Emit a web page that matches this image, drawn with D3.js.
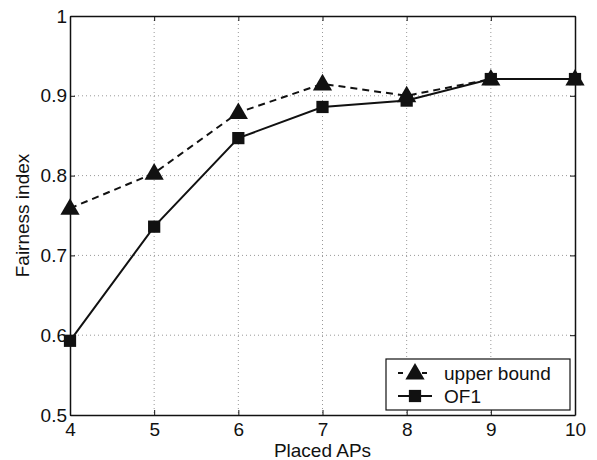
<!DOCTYPE html>
<html>
<head>
<meta charset="utf-8">
<script src="https://cdn.jsdelivr.net/npm/d3@7"></script>
<style>
  body { margin: 0; background: #fff; }
  svg { font-family: "Liberation Sans", Arial, sans-serif; }
</style>
</head>
<body>
<svg id="chart" width="597" height="460"></svg>
<script>
// data
const aps = [4, 5, 6, 7, 8, 9, 10];
const upperBound = [0.759, 0.803, 0.879, 0.915, 0.900, 0.921, 0.921];
const of1 = [0.593, 0.736, 0.847, 0.886, 0.894, 0.921, 0.921];
const yTicks = [0.5, 0.6, 0.7, 0.8, 0.9, 1];
const seriesNames = ["upper bound", "OF1"];

const fontSize = 19;

const svg = d3.select("#chart");
const margin = { left: 70, top: 16, right: 22, bottom: 45 };
const width = 597 - margin.left - margin.right;
const height = 460 - margin.top - margin.bottom;

const x = d3.scaleLinear().domain([4, 10]).range([0, width]);
const y = d3.scaleLinear().domain([0.5, 1]).range([height, 0]);

const g = svg.append("g").attr("transform", `translate(${margin.left},${margin.top})`);

// dotted grid
g.selectAll(".vgrid")
  .data(aps.slice(1, -1))
  .enter().append("line")
  .attr("x1", d => x(d)).attr("x2", d => x(d))
  .attr("y1", 0).attr("y2", height)
  .attr("stroke", "#999").attr("stroke-width", 1)
  .attr("stroke-dasharray", "1,3");

g.selectAll(".hgrid")
  .data(yTicks.slice(1, -1))
  .enter().append("line")
  .attr("x1", 0).attr("x2", width)
  .attr("y1", d => y(d)).attr("y2", d => y(d))
  .attr("stroke", "#999").attr("stroke-width", 1)
  .attr("stroke-dasharray", "1,3");

// axes (ticks inside, like matlab)
const xAxis = g.append("g").attr("transform", `translate(0,${height})`)
  .call(d3.axisBottom(x).tickValues(aps).tickSizeInner(-5).tickSizeOuter(0).tickPadding(8).tickFormat(d3.format("d")));
const yAxis = g.append("g")
  .call(d3.axisLeft(y).tickValues(yTicks).tickSizeInner(-5).tickSizeOuter(0).tickPadding(3).tickFormat(d => d === 1 ? "1" : d.toFixed(1)));

const xTop = g.append("g")
  .call(d3.axisTop(x).tickValues(aps).tickSizeInner(-5).tickSizeOuter(0).tickFormat(""));
const yRight = g.append("g").attr("transform", `translate(${width},0)`)
  .call(d3.axisRight(y).tickValues(yTicks).tickSizeInner(-5).tickSizeOuter(0).tickFormat(""));

[xAxis, yAxis, xTop, yRight].forEach(a => {
  a.attr("font-size", fontSize).attr("font-family", null);
  a.select(".domain").attr("stroke", "#111").attr("stroke-width", 1.5);
  a.selectAll(".tick line").attr("stroke", "#111");
  a.selectAll("text").attr("fill", "#111");
});

// lines
const line = d3.line().x((d, i) => x(aps[i])).y(d => y(d));

g.append("path").datum(upperBound)
  .attr("d", line).attr("fill", "none")
  .attr("stroke", "#111").attr("stroke-width", 2)
  .attr("stroke-dasharray", "7,5");

g.append("path").datum(of1)
  .attr("d", line).attr("fill", "none")
  .attr("stroke", "#111").attr("stroke-width", 2);

// markers
const tri = d3.symbol().type(d3.symbolTriangle).size(160);
const sq = d3.symbol().type(d3.symbolSquare).size(150);

g.selectAll(".sq")
  .data(of1)
  .enter().append("path")
  .attr("d", sq)
  .attr("transform", (d, i) => `translate(${x(aps[i])},${y(d)})`)
  .attr("fill", "#111");

g.selectAll(".tri")
  .data(upperBound)
  .enter().append("path")
  .attr("d", tri)
  .attr("transform", (d, i) => `translate(${x(aps[i])},${y(d) + 1})`)
  .attr("fill", "#111");

// axis labels
svg.append("text")
  .attr("x", margin.left + width / 2).attr("y", 457)
  .attr("text-anchor", "middle").attr("font-size", fontSize).attr("fill", "#111")
  .text("Placed APs");

svg.append("text")
  .attr("transform", `translate(29,${margin.top + height / 2}) rotate(-90)`)
  .attr("text-anchor", "middle").attr("font-size", fontSize).attr("fill", "#111")
  .text("Fairness index");

// legend
const leg = svg.append("g").attr("transform", "translate(386,359)");
leg.append("rect").attr("width", 184).attr("height", 51)
  .attr("fill", "#fff").attr("stroke", "#111").attr("stroke-width", 1.2);

seriesNames.forEach((name, i) => {
  const ly = 14 + i * 23;
  leg.append("line")
    .attr("x1", 12).attr("x2", 46).attr("y1", ly).attr("y2", ly)
    .attr("stroke", "#111").attr("stroke-width", 2)
    .attr("stroke-dasharray", i === 0 ? "5,7" : null);
  leg.append("path")
    .attr("d", i === 0 ? tri : sq)
    .attr("transform", `translate(29,${ly + (i === 0 ? 1 : 0)})`)
    .attr("fill", "#111");
  leg.append("text")
    .attr("x", 58).attr("y", ly + 7)
    .attr("font-size", fontSize).attr("fill", "#111")
    .text(name);
});
</script>
</body>
</html>
